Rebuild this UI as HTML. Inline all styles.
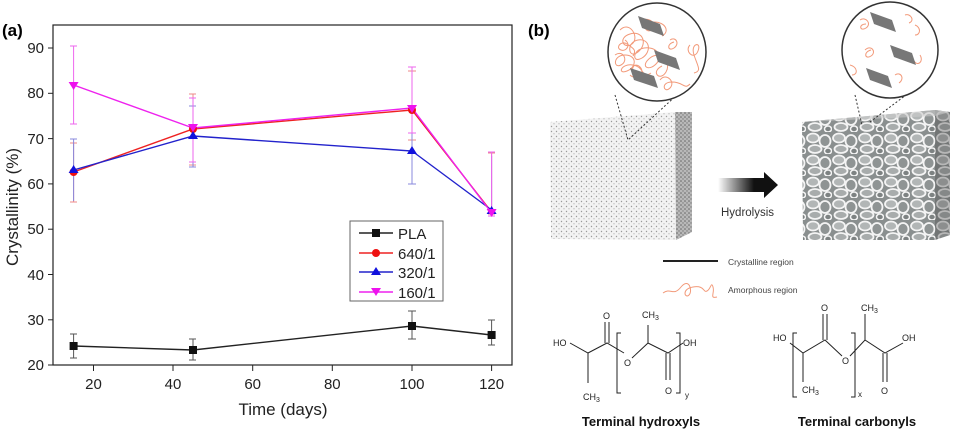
<!DOCTYPE html>
<html><head><meta charset="utf-8"><style>
body{margin:0;background:#fff;}
svg{display:block;font-family:"Liberation Sans",Arial,sans-serif;}
</style></head><body>
<svg width="955" height="434" viewBox="0 0 955 434" xmlns="http://www.w3.org/2000/svg">
<defs>
<pattern id="dots" width="5" height="5" patternUnits="userSpaceOnUse">
<rect width="5" height="5" fill="#f3f3f3"/>
<circle cx="1.5" cy="1.5" r="0.7" fill="#9a9a9a"/><circle cx="4" cy="3.8" r="0.6" fill="#aaa"/>
</pattern>
<pattern id="dots2" width="4" height="4" patternUnits="userSpaceOnUse">
<rect width="4" height="4" fill="#b8b8b8"/>
<circle cx="1" cy="1" r="0.8" fill="#666"/><circle cx="3" cy="3" r="0.7" fill="#777"/>
</pattern>
<pattern id="net" width="26" height="22" patternUnits="userSpaceOnUse">
<rect width="26" height="22" fill="#8a8f8f"/>
<ellipse cx="7" cy="6" rx="6" ry="4.5" fill="#b2b6b6" stroke="#f4f4f4" stroke-width="1.8"/>
<ellipse cx="19" cy="9" rx="5.5" ry="6" fill="#8f9494" stroke="#f4f4f4" stroke-width="1.8"/>
<ellipse cx="9" cy="17" rx="6.5" ry="4" fill="#a8acac" stroke="#f4f4f4" stroke-width="1.8"/>
<ellipse cx="22" cy="19" rx="3.5" ry="3" fill="#7d8282" stroke="#f4f4f4" stroke-width="1.5"/>
</pattern>
<linearGradient id="arr" x1="0" x2="1"><stop offset="0" stop-color="#fff"/><stop offset="0.6" stop-color="#111"/></linearGradient>
</defs>

<!-- Panel a -->
<text x="2" y="36" font-size="17" font-weight="bold">(a)</text>
<rect x="53" y="25" width="459" height="340" fill="none" stroke="#222" stroke-width="1.2"/>
<g stroke="#222" stroke-width="1">
<line x1="48" y1="48" x2="53" y2="48"/><line x1="48" y1="93.3" x2="53" y2="93.3"/><line x1="48" y1="138.6" x2="53" y2="138.6"/><line x1="48" y1="183.9" x2="53" y2="183.9"/><line x1="48" y1="229.2" x2="53" y2="229.2"/><line x1="48" y1="274.5" x2="53" y2="274.5"/><line x1="48" y1="319.8" x2="53" y2="319.8"/><line x1="48" y1="365" x2="53" y2="365"/>
<line x1="93.5" y1="365" x2="93.5" y2="371"/><line x1="173" y1="365" x2="173" y2="371"/><line x1="252.7" y1="365" x2="252.7" y2="371"/><line x1="332.3" y1="365" x2="332.3" y2="371"/><line x1="412" y1="365" x2="412" y2="371"/><line x1="491.6" y1="365" x2="491.6" y2="371"/>
</g>
<g font-size="15" fill="#222" text-anchor="end">
<text x="44" y="53">90</text><text x="44" y="98">80</text><text x="44" y="144">70</text><text x="44" y="189">60</text><text x="44" y="234">50</text><text x="44" y="280">40</text><text x="44" y="325">30</text><text x="44" y="370">20</text>
</g>
<g font-size="15" fill="#222" text-anchor="middle">
<text x="93.5" y="389">20</text><text x="173" y="389">40</text><text x="252.7" y="389">60</text><text x="332.3" y="389">80</text><text x="412" y="389">100</text><text x="491.6" y="389">120</text>
</g>
<text x="283" y="415" font-size="17" text-anchor="middle" fill="#222">Time (days)</text>
<text transform="translate(18,207) rotate(-90)" font-size="17" text-anchor="middle" fill="#222">Crystallinity (%)</text>

<g stroke-width="1" fill="none">
<g stroke="#555"><path d="M73.6 334v24M70 334h7M70 358h7M193 339v21M189 339h7M189 360h7M412 311v28M408 311h8M408 339h8M491.6 320v25M488 320h7M488 345h7"/></g>
<g stroke="#e88" ><path d="M73.6 143v59M70 143h7M70 202h7M193 94v71M189 94h7M189 165h7M412 71v69M408 71h8M408 140h8M491.6 153v61M488 153h7M488 214h7"/></g>
<g stroke="#88d"><path d="M73.6 139v62M70 139h7M193 106v61M189 106h7M189 167h7M412 88v96M408 184h8M491.6 156v58"/></g>
<g stroke="#e6e"><path d="M73.6 46v78M70 46h7M70 124h7M193 98v64M189 98h7M189 162h7M412 67v66M408 67h8M408 133h8M491.6 152v64M488 152h7M488 216h7"/></g>
</g>
<g fill="none" stroke-width="1.4">
<polyline stroke="#222" points="73.6,346 193,350 412,326 491.6,335"/>
<polyline stroke="#e22" points="73.6,172 193,129 412,110 491.6,212"/>
<polyline stroke="#22c" points="73.6,170 193,136 412,151 491.6,210"/>
<polyline stroke="#e2e" points="73.6,85 193,128 412,108 491.6,213"/>
</g>
<g>
<rect x="69.6" y="342" width="8" height="8" fill="#111"/><rect x="189" y="346" width="8" height="8" fill="#111"/><rect x="408" y="322" width="8" height="8" fill="#111"/><rect x="487.6" y="331" width="8" height="8" fill="#111"/>
<circle cx="73.6" cy="172" r="4" fill="#e11"/><circle cx="193" cy="129" r="4" fill="#e11"/><circle cx="412" cy="110" r="4" fill="#e11"/>
<path d="M73.6 165l5 8h-10z M193 131l5 8h-10z M412 146l5 8h-10z M491.6 206l5 8h-10z" fill="#11d"/>
<path d="M73.6 90l5-8h-10z M193 132l5-8h-10z M412 113l5-8h-10z M491.6 217l5-8h-10z" fill="#e1e"/>
</g>
<rect x="350" y="221" width="93" height="80" fill="#fff" stroke="#666" stroke-width="1"/>
<g stroke-width="1.4">
<line x1="359" y1="233" x2="393" y2="233" stroke="#222"/><rect x="372" y="229" width="8" height="8" fill="#111"/>
<line x1="359" y1="253" x2="393" y2="253" stroke="#e22"/><circle cx="376" cy="253" r="4" fill="#e11"/>
<line x1="359" y1="272" x2="393" y2="272" stroke="#22c"/><path d="M376 267l5 8h-10z" fill="#11d"/>
<line x1="359" y1="292" x2="393" y2="292" stroke="#e2e"/><path d="M376 296l5-8h-10z" fill="#e1e"/>
</g>
<g font-size="15" fill="#222"><text x="398" y="239">PLA</text><text x="398" y="259">640/1</text><text x="398" y="278">320/1</text><text x="398" y="298">160/1</text></g>

<!-- Panel b -->
<text x="528" y="36" font-size="17" font-weight="bold">(b)</text>
<path d="M550 122 L675 112 L676 240 L551 239 Z" fill="url(#dots)"/>
<path d="M675 112 L692 112 L692 232 L676 240 Z" fill="url(#dots2)"/>
<path d="M802 122 L935 110 L950 112 L950 235 L935 240 L803 240 Z" fill="url(#net)"/>
<path d="M935 110 L950 112 L950 235 L935 240 Z" fill="#444" opacity="0.35"/>
<path d="M802 122 L935 110 L950 112 L935 116 Z" fill="#ccc" opacity="0.6"/>
<g stroke="#333" stroke-dasharray="2,2" fill="none"><path d="M615 95 L628 140 L680 92"/><path d="M855 95 L862 125 M910 92 L870 122"/></g>
<circle cx="657" cy="52" r="49" fill="#fff" stroke="#333" stroke-width="1.5"/>
<circle cx="890" cy="50" r="48" fill="#fff" stroke="#333" stroke-width="1.5"/>
<g fill="none" stroke="#f29a7a" stroke-width="1">
<path d="M620 30c10-10 20 8 12 14s-15-6-2-10 18 10 8 18-12-10 0-12 14 12 4 18-10-8 2-10 20 8 12 16-16 2-6-6 22 4 16 14-16 0-4-6M615 55c8-6 14 6 6 10s-8-10 4-10 12 12 2 16-6-8 6-6 8 14 18 8M640 20c10-4 20 6 12 10s-10-8 2-8 16 10 8 14M660 80c6-8 16 2 10 8s-10-6 2-6 12 8 18 2M690 45c-6 6 4 16 8 6s-8-8-4 4 8 16 0 18M630 75c6 6 16-2 10-8s-12 4-2 8M625 40c6 4 2 12-4 10s0-10 6-6 10 6 6 12M670 40c6-4 10 4 4 8s-8-4 0-6"/>
<path d="M860 20c6-4 12 4 6 8s-8-4 0-4M905 15c6-2 10 6 4 8M865 50c6-6 12 2 6 6s-8-4 0-6M895 75c6-4 10 4 4 8M920 55c4 6-2 12-6 6M850 65c8 2 8 10 2 10M915 25c6 2 6 10 0 10"/>
</g>
<g fill="#777"><path d="M638 16l22 8 4 12-22-8z M654 50l22 8 4 12-22-8z M630 68l24 8 4 12-24-8z"/><path d="M870 12l22 8 4 12-22-8z M890 45l22 8 4 12-22-8z M866 68l22 8 4 12-22-8z"/></g>
<path d="M718 178 L764 178 L764 172 L778 185 L764 198 L764 192 L718 192 Z" fill="url(#arr)"/>
<text x="721" y="216" font-size="11.5" fill="#333">Hydrolysis</text>
<line x1="663" y1="261" x2="718" y2="261" stroke="#222" stroke-width="2"/>
<text x="728" y="265" font-size="8.5" fill="#444">Crystalline region</text>
<path d="M663 293c8-6 10 4 18-6s12 4 8 8-8-6 4-8 10 6 14 4 4-10 6-4-4 12 4 10" fill="none" stroke="#f29a7a" stroke-width="1"/>
<text x="728" y="293" font-size="8.5" fill="#444">Amorphous region</text>
<g stroke="#222" stroke-width="1" fill="none">
<path d="M570 343 L588 353 L607 343 L624 353 M588 353 V383 M605 343 V322 M609 343 V322 M632 358 L648 343 L668 353 L683 343 M648 343 V325 M666 353 V380 M670 353 V380"/>
<path d="M621 333 h-4 v60 h4 M676 333 h4 v60 h-4"/>
<path d="M790 343 L803 353 L825 340 L842 356 M803 353 V382 M823 340 V314 M827 340 V314 M850 356 L865 340 L885 353 L903 343 M865 340 V314 M883 353 V382 M887 353 V382"/>
<path d="M797 333 h-4 v64 h4 M851 333 h4 v64 h-4"/>
</g>
<g font-size="9" fill="#222">
<text x="553" y="346">HO</text><text x="583" y="400">CH<tspan font-size="7" dy="2">3</tspan></text><text x="603" y="319">O</text>
<text x="624" y="366">O</text><text x="642" y="318">CH<tspan font-size="7" dy="2">3</tspan></text><text x="665" y="394">O</text><text x="683" y="346">OH</text><text x="685" y="398" font-size="8">y</text>
<text x="773" y="341">HO</text><text x="802" y="393">CH<tspan font-size="7" dy="2">3</tspan></text><text x="821" y="311">O</text><text x="842" y="364">O</text>
<text x="861" y="311">CH<tspan font-size="7" dy="2">3</tspan></text><text x="881" y="394">O</text><text x="902" y="341">OH</text><text x="858" y="397" font-size="8">x</text>
</g>
<g font-size="13" font-weight="bold" fill="#111" text-anchor="middle">
<text x="641" y="426">Terminal hydroxyls</text><text x="857" y="426">Terminal carbonyls</text>
</g>
</svg>
</body></html>
